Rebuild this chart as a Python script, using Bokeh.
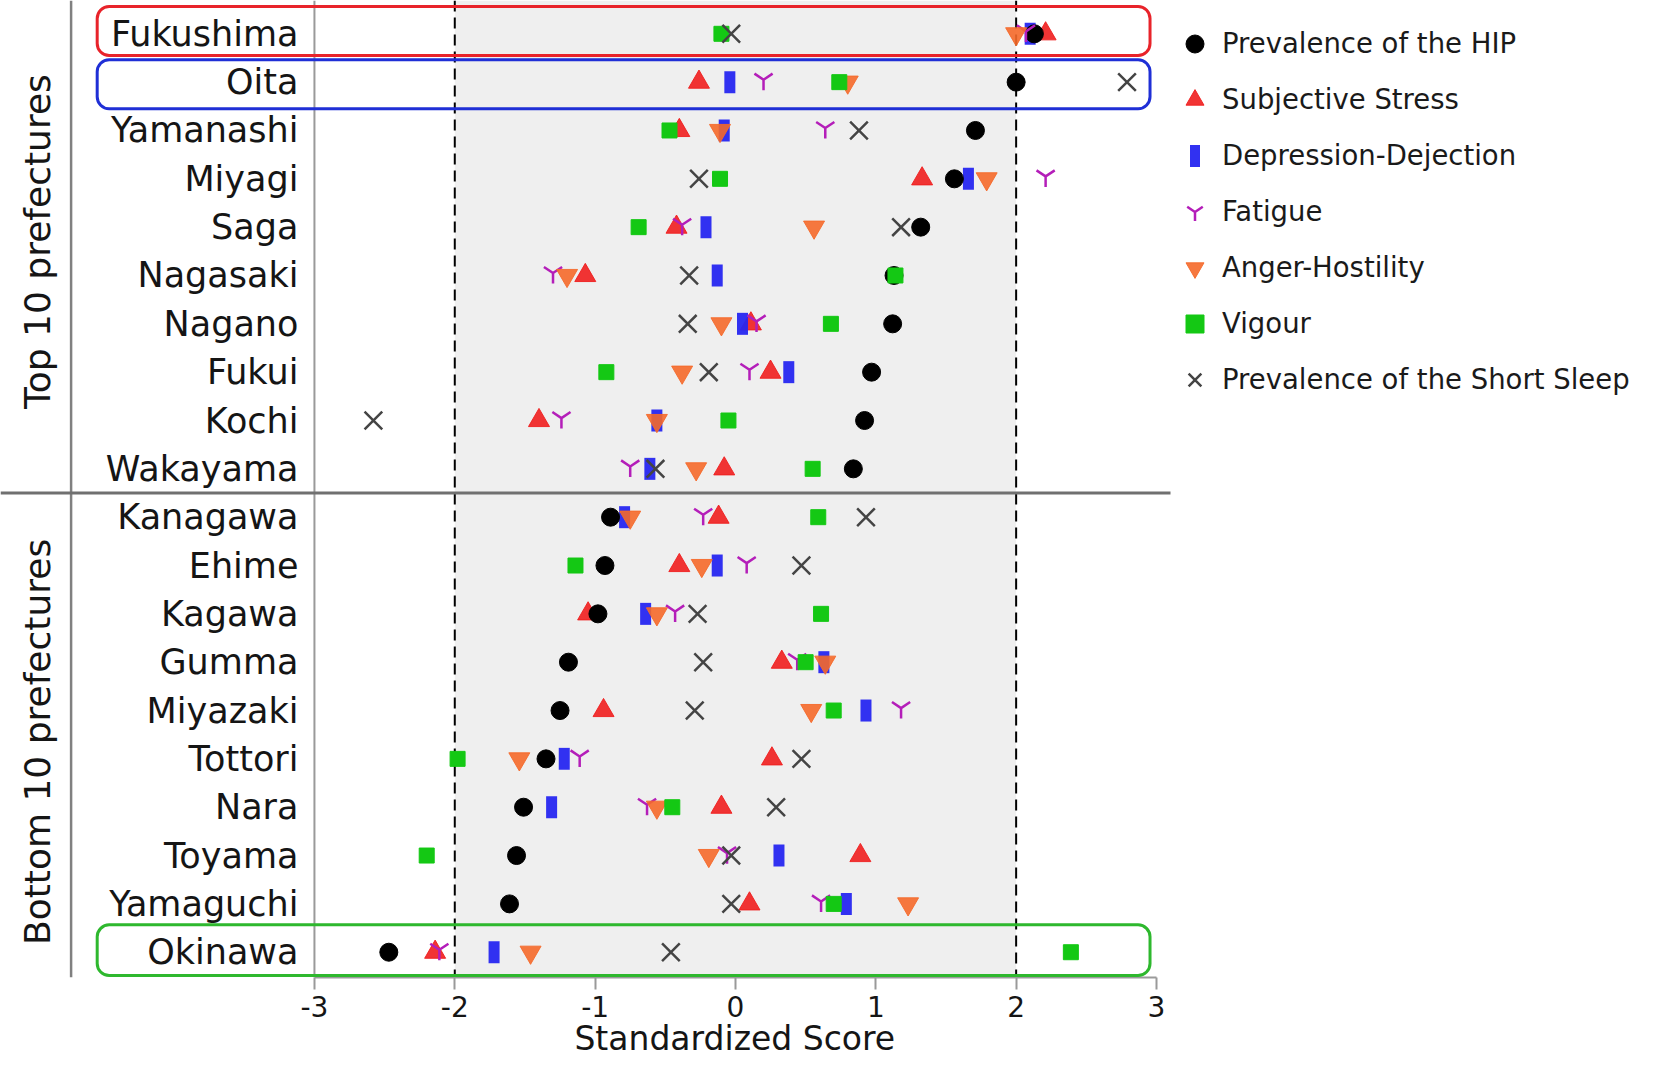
import numpy as np
from bokeh.plotting import figure
from bokeh.models import (Range1d, BoxAnnotation, Span, Legend, LegendItem,
                          FixedTicker, ColumnDataSource, Title)
from bokeh.core.properties import value
from bokeh.embed import file_html
from bokeh.resources import INLINE

# ---------------- data ----------------
prefectures = ["Fukushima", "Oita", "Yamanashi", "Miyagi", "Saga", "Nagasaki",
               "Nagano", "Fukui", "Kochi", "Wakayama",
               "Kanagawa", "Ehime", "Kagawa", "Gumma", "Miyazaki", "Tottori",
               "Nara", "Toyama", "Yamaguchi", "Okinawa"]
groups = ["Top 10 prefectures", "Bottom 10 prefectures"]

hip = [2.13, 2.00, 1.71, 1.56, 1.32, 1.13, 1.12, 0.97, 0.92, 0.84,
       -0.89, -0.93, -0.98, -1.19, -1.25, -1.35, -1.51, -1.56, -1.61, -2.47]
stress = [2.21, -0.26, -0.40, 1.33, -0.42, -1.07, 0.11, 0.25, -1.40, -0.08,
          -0.12, -0.40, -1.05, 0.33, -0.94, 0.26, -0.10, 0.89, 0.10, -2.14]
depression = [2.10, -0.04, -0.08, 1.66, -0.21, -0.13, 0.05, 0.38, -0.56, -0.61,
              -0.79, -0.13, -0.64, 0.63, 0.93, -1.22, -1.31, 0.31, 0.79, -1.72]
fatigue = [2.07, 0.20, 0.64, 2.21, -0.38, -1.30, 0.15, 0.10, -1.24, -0.75,
           -0.23, 0.08, -0.43, 0.44, 1.18, -1.11, -0.63, -0.06, 0.61, -2.11]
anger = [2.00, 0.80, -0.11, 1.79, 0.56, -1.20, -0.10, -0.38, -0.56, -0.28,
         -0.75, -0.24, -0.56, 0.64, 0.54, -1.54, -0.56, -0.19, 1.23, -1.46]
vigour = [-0.10, 0.74, -0.47, -0.11, -0.69, 1.14, 0.68, -0.92, -0.05, 0.55,
          0.59, -1.14, 0.61, 0.50, 0.70, -1.98, -0.45, -2.20, 0.70, 2.39]
short_sleep = [-0.03, 2.79, 0.88, -0.26, 1.18, -0.33, -0.34, -0.19, -2.58, -0.57,
               0.93, 0.47, -0.27, -0.23, -0.29, 0.47, 0.29, -0.03, -0.03, -0.46]

series_labels = ["Prevalence of the HIP", "Subjective Stress", "Depression-Dejection",
                 "Fatigue", "Anger-Hostility", "Vigour", "Prevalence of the Short Sleep"]
tick_values = [-3, -2, -1, 0, 1, 2, 3]
tick_labels = ["-3", "-2", "-1", "0", "1", "2", "3"]
x_title = "Standardized Score"

# ---------------- layout ----------------
FONT = "DejaVu Sans"
W, H = 1637, 1061
FRAME_H = 977
UNIT = 140.34                  # px per score unit
X_LEFT = -5.237
n = len(prefectures)
rows = [n - 1 - i for i in range(n)]

p = figure(width=W, height=H,
           x_range=Range1d(X_LEFT, X_LEFT + W / UNIT),
           y_range=Range1d(-0.523, n - 1 + 0.689),
           output_backend="svg", toolbar_location=None, y_axis_location=None,
           min_border_left=0, min_border_right=0, min_border_top=0,
           min_border_bottom=H - FRAME_H)
p.grid.visible = False
p.outline_line_color = None

# shaded band and reference lines
p.add_layout(BoxAnnotation(left=-2, right=2, fill_color="#efefef", fill_alpha=1,
                           line_color=None, level="underlay"))
for loc in (-2, 2):
    p.add_layout(Span(location=loc, dimension="height", line_color="black",
                      line_width=2, line_dash="11 6", level="underlay"))
p.add_layout(Span(location=-3, dimension="height", line_color="#9a9a9a",
                  line_width=2, level="underlay"))
p.add_layout(Span(location=-4.734, dimension="height", line_color="#808080",
                  line_width=2.5, level="underlay"))
p.segment(x0=[X_LEFT], y0=[9.5], x1=[3.10], y1=[9.5], line_color="#707070",
          line_width=3)

# row labels
p.text(x=[-3.114] * n, y=rows, text=prefectures, text_align="right",
       text_baseline="middle", text_font=value(FONT), text_font_size="35px",
       text_color="#151515")
p.text(x=[-4.976, -4.976], y=[14.7, 4.35], text=groups, angle=np.pi / 2,
       text_align="center", text_baseline="middle", text_font=value(FONT),
       text_font_size="36px", text_color="#151515")

# data glyphs
src = ColumnDataSource(dict(y=rows, yf=[r + 0.05 for r in rows], hip=hip,
                            stress=stress, dep=depression, fat=fatigue,
                            anger=anger, vig=vigour, ss=short_sleep))
BLUE = "#2626f0"
r_stress = p.scatter("stress", "y", source=src, marker="triangle", size=21,
                     fill_color="#f01e1e", line_color="#f01e1e", fill_alpha=0.9,
                     line_alpha=0.9)
# vertical bar: a short dash with a very thick stroke
r_dep = p.scatter("dep", "y", source=src, marker="dash", size=11,
                  line_width=22, line_color=BLUE, line_alpha=0.95)
r_hip = p.scatter("hip", "y", source=src, marker="circle", size=18,
                  fill_color="black", line_color="black")
r_fat = p.scatter("fat", "yf", source=src, marker="y", size=21,
                  line_color="#b41eb9", line_width=2.5)
r_anger = p.scatter("anger", "y", source=src, marker="inverted_triangle", size=21,
                    fill_color="#f5692a", line_color="#f5692a", fill_alpha=0.9,
                    line_alpha=0.9)
r_vig = p.scatter("vig", "y", source=src, marker="square", size=15,
                  fill_color="#14c814", line_color="#14c814")
r_ss = p.scatter("ss", "y", source=src, marker="x", size=25,
                 line_color="#444444", line_width=2.5)

# highlight boxes
for bottom, top, col in ((18.551, 19.565, "#e8232a"),
                         (17.45, 18.463, "#1f2fd6"),
                         (-0.482, 0.567, "#2eb82e")):
    p.add_layout(BoxAnnotation(left=-4.548, right=2.954, bottom=bottom, top=top,
                               fill_alpha=0, line_color=col, line_alpha=1,
                               line_width=3, border_radius=12))

# legend (the bar glyph of Depression-Dejection gets its own narrow legend)
GLYPH, SPACING = 45, 11
LEG_X, LEG_TOP = 1172, 20.5
leg_h = 7 * GLYPH + 6 * SPACING
dummy = p.scatter(x=[], y=[], marker="circle", size=1, fill_alpha=0, line_alpha=0)
renderers = [r_hip, r_stress, dummy, r_fat, r_anger, r_vig, r_ss]
legend = Legend(items=[LegendItem(label=l, renderers=[r])
                       for l, r in zip(series_labels, renderers)],
                location=(LEG_X, FRAME_H - LEG_TOP - leg_h), orientation="vertical",
                glyph_width=GLYPH, glyph_height=GLYPH, spacing=SPACING,
                label_standoff=5, padding=0, margin=0, border_line_color=None,
                background_fill_alpha=0, label_text_font=FONT,
                label_text_font_size="27.5px", label_text_color="#1a1a1a")
p.add_layout(legend)
NARROW = 25
legend_bar = Legend(items=[LegendItem(label=" ", renderers=[r_dep])],
                    location=(LEG_X + (GLYPH - NARROW) / 2,
                              FRAME_H - LEG_TOP - 2 * (GLYPH + SPACING) - GLYPH),
                    glyph_width=NARROW, glyph_height=GLYPH, label_standoff=0,
                    padding=0, margin=0, border_line_color=None,
                    background_fill_alpha=0, label_text_font_size="2px",
                    label_height=2, label_width=1)
p.add_layout(legend_bar)

# x axis
ax = p.xaxis[0]
ax.ticker = FixedTicker(ticks=tick_values)
ax.major_label_overrides = {v: s for v, s in zip(tick_values, tick_labels)}
ax.bounds = (-3, 3)
ax.axis_line_color = "#9a9a9a"
ax.axis_line_width = 2
ax.major_tick_line_color = "#9a9a9a"
ax.major_tick_line_width = 2
ax.major_tick_out = 12
ax.major_tick_in = 0
ax.minor_tick_line_color = None
ax.major_label_text_font = FONT
ax.major_label_text_font_size = "28px"
ax.major_label_text_color = "#151515"
ax.major_label_standoff = 6

# axis title centred under score 0 (the frame is wider than the axis)
TITLE_SIZE = 33
centre_px = (0 - X_LEFT) * UNIT
title_w = 9.762 * TITLE_SIZE          # DejaVu Sans advance width of the title
p.add_layout(Title(text=x_title, align="left", offset=centre_px - title_w / 2,
                   standoff=-5, text_font=FONT, text_font_size=f"{TITLE_SIZE}px",
                   text_font_style="normal", text_color="#151515"), "below")

open("out.html", "w").write(file_html(p, INLINE))
